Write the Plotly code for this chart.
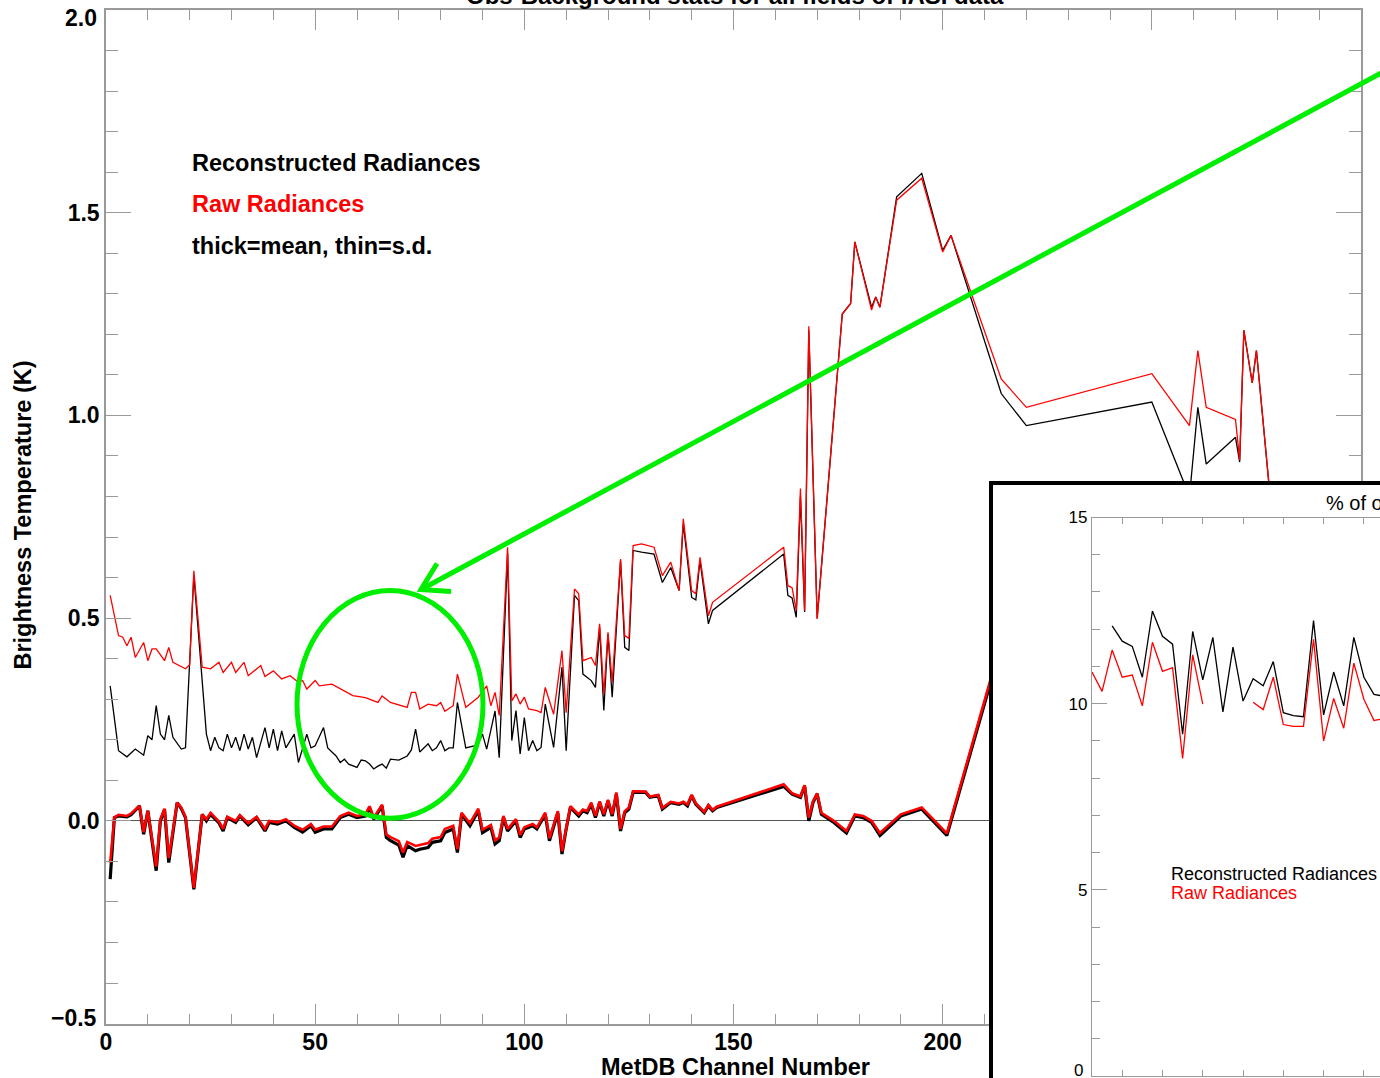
import plotly.graph_objects as go

W, H = 1380, 1078
FONT = "Liberation Sans, Arial, Helvetica, sans-serif"
AX_GRAY = "#9a9a9a"
GREEN = "#00ee00"

# ---------------- main chart data (MetDB channel number vs brightness temperature, K) -------------
rec_sd_ch = [1,3,5,7,9,10,11,12,13,14,15,16,18,19,21,24,25,26,27,28,29,30,31,32,33,34,35,36,38,39,
             40,41,42,43,45,46,48,49,50,52,53,55,56,57,58,60,61,62,63,64,65,66,67,68,70,72,73,74,75,76,
             77,78,79,80,81,82,83,84,86,88,89,90,91,93,94,96,97,98,99,100,101,102,103,104,105,107,109,110,112,113,
             114,116,117,118,119,120,121,123,124,125,126,128,131,133,135,137,138,140,141,142,144,145,162,163,164,
             165,166,167,168,170,176,178,179,183,184,185,189,195,200,202,214,220,250,259,261,263,270,271,272,274,
             275,279,284]
rec_sd = [0.333,0.173,0.158,0.177,0.162,0.21,0.2,0.284,0.214,0.2,0.26,0.206,0.177,0.18,0.605,0.214,0.173,0.206,0.18,0.173,
          0.214,0.18,0.206,0.173,0.214,0.177,0.206,0.156,0.23,0.18,0.226,0.173,0.222,0.18,0.214,0.144,0.214,0.18,0.185,0.23,
          0.18,0.16,0.144,0.152,0.14,0.132,0.15,0.148,0.14,0.128,0.135,0.14,0.13,0.152,0.15,0.16,0.175,0.226,0.17,0.18,
          0.19,0.173,0.18,0.198,0.173,0.18,0.18,0.292,0.18,0.185,0.19,0.214,0.177,0.271,0.156,0.66,0.198,0.272,0.165,0.255,
          0.173,0.198,0.173,0.181,0.288,0.181,0.379,0.173,0.556,0.543,0.362,0.346,0.329,0.477,0.272,0.461,0.305,0.642,0.428,0.42,
          0.667,0.663,0.658,0.588,0.625,0.568,0.733,0.551,0.545,0.642,0.486,0.519,0.658,0.556,0.55,0.502,0.80,0.515,1.21,0.50,
          1.25,1.276,1.428,1.267,1.292,1.267,1.539,1.597,1.407,1.444,1.054,0.975,1.033,0.80,1.02,0.88,0.946,0.885,1.21,1.08,
          1.16,0.72,0.6]

raw_sd_ch = [1,3,4,5,6,7,9,10,11,12,14,15,16,19,20,21,23,25,27,28,30,31,33,34,37,38,40,42,44,46,
             47,48,50,51,54,57,59,62,65,66,68,72,73,74,75,77,79,80,81,83,84,86,89,91,92,93,94,96,97,98,
             99,100,101,103,104,105,107,109,110,112,113,114,116,117,118,119,120,121,123,124,125,126,128,131,133,
             135,137,138,140,141,142,144,145,162,163,164,165,166,167,168,170,176,178,179,183,184,185,189,195,200,
             202,214,220,250,259,261,263,270,271,272,274,275,279,284]
raw_sd = [0.556,0.457,0.453,0.432,0.453,0.403,0.44,0.395,0.424,0.424,0.395,0.428,0.391,0.375,0.385,
          0.617,0.379,0.375,0.391,0.366,0.391,0.366,0.391,0.358,0.383,0.356,0.37,0.35,0.358,0.342,
          0.346,0.325,0.346,0.333,0.337,0.321,0.309,0.304,0.292,0.308,0.292,0.28,0.317,0.317,0.276,
          0.288,0.284,0.292,0.27,0.284,0.362,0.28,0.305,0.333,0.284,0.317,0.26,0.675,0.296,0.313,
          0.288,0.305,0.276,0.272,0.267,0.329,0.263,0.42,0.267,0.572,0.56,0.395,0.403,0.383,0.486,
          0.313,0.465,0.342,0.646,0.457,0.45,0.679,0.683,0.675,0.605,0.638,0.568,0.745,0.568,0.56,
          0.65,0.506,0.539,0.675,0.58,0.575,0.519,0.82,0.519,1.22,0.498,1.25,1.276,1.428,1.26,
          1.292,1.267,1.531,1.585,1.403,1.444,1.09,1.02,1.103,0.975,1.16,1.02,0.99,0.89,1.21,
          1.08,1.16,0.72,0.6]

mean_ch = [1,2,3,5,6,8,9,10,12,13,14,15,17,18,19,21,23,24,25,27,28,29,31,32,34,36,38,39,41,43,
           45,47,49,50,52,54,56,58,60,62,63,64,66,67,68,70,71,72,74,75,77,78,80,81,83,84,85,87,89,90,
           92,93,94,95,96,98,99,100,102,103,105,106,108,109,110,111,113,114,115,116,117,118,119,120,121,
           122,123,124,125,126,129,130,132,133,135,137,138,139,140,141,143,144,145,146,162,164,166,167,168,169,
           170,171,174,177,179,181,183,185,190,195,201,220,250,270,290]
rec_mean = [-0.144,0.008,0.012,0.01,0.015,0.037,-0.033,0.025,-0.123,0.0,0.028,-0.103,0.045,0.03,0.008,
            -0.169,0.016,0.0,0.016,-0.005,-0.025,0.008,-0.004,0.012,-0.01,0.008,-0.025,-0.004,-0.008,0.0,
            -0.016,-0.028,-0.012,-0.028,-0.02,-0.02,0.008,0.016,0.008,0.012,0.033,0.004,0.037,-0.041,-0.049,
            -0.06,-0.09,-0.061,-0.074,-0.07,-0.066,-0.053,-0.049,-0.029,-0.02,-0.078,0.016,-0.012,0.025,-0.029,
            -0.016,-0.057,-0.049,0.008,-0.025,0.0,-0.041,-0.02,-0.012,-0.02,0.016,-0.049,0.02,-0.082,-0.02,
            0.033,0.012,0.025,0.02,0.041,0.008,0.045,0.012,0.049,0.012,0.066,-0.025,0.02,0.029,0.07,
            0.07,0.058,0.062,0.029,0.045,0.041,0.045,0.037,0.062,0.041,0.02,0.037,0.025,0.033,0.085,
            0.066,0.058,0.086,0.0,0.045,0.066,0.016,-0.004,-0.03,0.012,0.008,-0.004,-0.036,0.012,0.029,
            -0.036,0.65,0.3,0.1,0.0]
raw_mean = [-0.103,0.008,0.015,0.012,0.018,0.037,-0.028,0.025,-0.113,0.004,0.03,-0.092,0.045,0.033,0.01,
            -0.165,0.016,0.004,0.02,-0.002,-0.02,0.01,0.0,0.014,-0.006,0.01,-0.02,0.0,-0.004,0.004,
            -0.012,-0.022,-0.008,-0.022,-0.014,-0.014,0.012,0.02,0.012,0.016,0.036,0.008,0.04,-0.033,-0.04,
            -0.05,-0.078,-0.052,-0.062,-0.06,-0.055,-0.044,-0.04,-0.02,-0.012,-0.07,0.02,-0.006,0.03,-0.022,
            -0.01,-0.048,-0.041,0.012,-0.02,0.004,-0.035,-0.016,-0.008,-0.016,0.02,-0.043,0.024,-0.075,-0.016,
            0.036,0.016,0.028,0.024,0.045,0.012,0.048,0.016,0.052,0.016,0.07,-0.02,0.024,0.033,0.073,
            0.072,0.06,0.064,0.032,0.047,0.043,0.047,0.04,0.064,0.043,0.022,0.039,0.027,0.035,0.09,
            0.068,0.06,0.088,0.008,0.048,0.068,0.02,0.0,-0.025,0.016,0.012,0.0,-0.03,0.016,0.033,
            -0.031,0.66,0.31,0.11,0.01]
main_y_ticks = [0.0, 0.5, 1.0, 1.5]
main_y_ticktext = ["0.0", "0.5", "1.0", "1.5"]

# ---------------- inset data (percent) ----------------
inset_rec_x = [2,3,4,5,6,7,8,9,10,11,12,13,14,15,16,17,18,19,20,21,22,23,24,25,26,27,28,29]
inset_rec = [12.09,11.68,11.54,10.71,12.49,11.81,11.60,9.18,11.94,10.64,11.78,9.78,11.52,10.07,
             10.67,10.48,11.13,9.76,9.68,9.65,12.23,9.70,10.85,9.94,11.78,10.71,10.25,10.2]
inset_raw_x = [0,1,2,3,4,5,6,7,8,9,10,11,12,13,14,15,16,17,18,19,20,21,22,23,24,25,26,27,28,29]
inset_raw = [10.85,10.33,11.44,10.71,10.77,9.94,11.65,10.87,10.97,8.53,11.31,9.99,None,None,None,None,
             10.04,9.84,10.71,9.44,9.39,9.39,11.73,9.0,10.14,9.34,11.09,10.12,9.55,9.6]
inset_y_ticks = [5, 10, 15]

assert len(rec_sd_ch) == len(rec_sd)
assert len(raw_sd_ch) == len(raw_sd)
assert len(mean_ch) == len(rec_mean) == len(raw_mean)
assert len(inset_rec_x) == len(inset_rec) and len(inset_raw_x) == len(inset_raw)

# the rendered page maps paper y onto rows 8..1078, so convert target pixel rows accordingly
TOP_OFF, EFF_H = 8.0, 1070.0


def px(x):
    return x / W


def py(y):
    return 1 - (y - TOP_OFF) / EFF_H


fig = go.Figure()

# main traces
fig.add_trace(go.Scatter(x=rec_sd_ch, y=rec_sd, mode="lines", line=dict(color="black", width=1.3),
                         xaxis="x", yaxis="y"))
fig.add_trace(go.Scatter(x=raw_sd_ch, y=raw_sd, mode="lines", line=dict(color="#ff0000", width=1.3),
                         xaxis="x", yaxis="y"))
fig.add_trace(go.Scatter(x=mean_ch, y=rec_mean, mode="lines", line=dict(color="black", width=3.2),
                         xaxis="x", yaxis="y"))
fig.add_trace(go.Scatter(x=mean_ch, y=raw_mean, mode="lines", line=dict(color="#ff0000", width=2.6),
                         xaxis="x", yaxis="y"))
# white framed box (its own subplot so it covers the main chart)
fig.add_trace(go.Scatter(x=[None], y=[None], mode="lines", xaxis="x2", yaxis="y2", hoverinfo="skip"))
# inset traces
fig.add_trace(go.Scatter(x=inset_rec_x, y=inset_rec, mode="lines", line=dict(color="black", width=1.3),
                         xaxis="x3", yaxis="y3"))
fig.add_trace(go.Scatter(x=inset_raw_x, y=inset_raw, mode="lines", line=dict(color="#ff0000", width=1.3),
                         connectgaps=False, xaxis="x3", yaxis="y3"))

bold = dict(family=FONT, size=23, color="black", weight="bold")

fig.update_layout(
    width=W, height=H, margin=dict(l=0, r=0, t=0, b=0, pad=0),
    paper_bgcolor="white", plot_bgcolor="white", showlegend=False,
    xaxis=dict(domain=[px(106), px(1361)], range=[0, 300], anchor="y", showline=True, linecolor=AX_GRAY,
               linewidth=1.5, mirror="allticks", ticks="inside", ticklen=20, tickwidth=1.3, tickcolor=AX_GRAY,
               tick0=0, dtick=50, showgrid=False, zeroline=False, tickfont=bold, automargin=False,
               ticklabelstandoff=-3,
               minor=dict(ticks="inside", ticklen=10, tickwidth=1.3, tickcolor=AX_GRAY, dtick=10, tick0=0,
                          showgrid=False)),
    yaxis=dict(domain=[py(1023.5), py(9)], range=[-0.5, 2.0], anchor="x", showline=True, linecolor=AX_GRAY,
               linewidth=1.5, mirror="allticks", ticks="inside", ticklen=25, tickwidth=1.3, tickcolor=AX_GRAY,
               tickmode="array", tickvals=main_y_ticks, ticktext=main_y_ticktext,
               showgrid=False, zeroline=True, zerolinecolor="#555555",
               zerolinewidth=1.4, tickfont=bold, automargin=False,
               minor=dict(ticks="inside", ticklen=12, tickwidth=1.3, tickcolor=AX_GRAY, dtick=0.1, tick0=0,
                          showgrid=False)),
    xaxis2=dict(domain=[px(993), 1.0], range=[0, 1], anchor="y2", side="top", showline=True,
                linecolor="black", linewidth=3.5, showticklabels=False, ticks="", showgrid=False,
                zeroline=False, fixedrange=True),
    yaxis2=dict(domain=[0.0, py(484)], range=[0, 1], anchor="x2", side="left", showline=True,
                linecolor="black", linewidth=3.5, showticklabels=False, ticks="", showgrid=False,
                zeroline=False, fixedrange=True),
    xaxis3=dict(domain=[px(1092), 1.0], range=[0, 28.6], anchor="y3", showline=True, linecolor=AX_GRAY,
                linewidth=1.3, mirror="allticks", ticks="inside", ticklen=6, tickwidth=1.2, tickcolor=AX_GRAY,
                tick0=3, dtick=4, showticklabels=False, showgrid=False, zeroline=False),
    yaxis3=dict(domain=[py(1076), py(517)], range=[0, 15], anchor="x3", showline=True, linecolor=AX_GRAY,
                linewidth=1.3, ticks="inside", ticklen=15, tickwidth=1.2, tickcolor=AX_GRAY,
                tickmode="array", tickvals=inset_y_ticks,
                showgrid=False, zeroline=False,
                tickfont=dict(family=FONT, size=17, color="black"),
                minor=dict(ticks="inside", ticklen=8, tickwidth=1.2, tickcolor=AX_GRAY, dtick=1, tick0=0,
                           showgrid=False)),
)

ann = []
# clipped title at top
ann.append(dict(text="Obs-Background stats for all fields of IASI data", x=px(735), y=py(10),
                xref="paper", yref="paper", xanchor="center", yanchor="bottom", showarrow=False,
                font=dict(family=FONT, size=24, color="black", weight="bold")))
# end-of-axis labels, nudged inward as in the original
ann.append(dict(text="2.0", x=px(99), y=py(17), xref="paper", yref="paper", xanchor="right",
                yanchor="middle", showarrow=False, font=bold))
ann.append(dict(text="\u22120.5", x=px(99), y=py(1018), xref="paper", yref="paper", xanchor="right",
                yanchor="middle", showarrow=False, font=bold))
ann.append(dict(text="0", x=px(1085), y=py(1070), xref="paper", yref="paper", xanchor="right",
                yanchor="middle", showarrow=False, font=dict(family=FONT, size=17, color="black")))
# main legend text
for txt, yy, col in [("Reconstructed Radiances", 162, "black"), ("Raw Radiances", 203, "#ff0000"),
                     ("thick=mean, thin=s.d.", 245, "black")]:
    ann.append(dict(text=txt, x=px(190), y=py(yy), xref="paper", yref="paper", xanchor="left",
                    yanchor="middle", showarrow=False,
                    font=dict(family=FONT, size=23.5, color=col, weight="bold")))
# axis titles
ann.append(dict(text="MetDB Channel Number", x=px(735), y=py(1067), xref="paper", yref="paper",
                xanchor="center", yanchor="middle", showarrow=False,
                font=dict(family=FONT, size=23.5, color="black", weight="bold")))
ann.append(dict(text="Brightness Temperature (K)", x=px(23), y=py(515), xref="paper", yref="paper",
                xanchor="center", yanchor="middle", textangle=-90, showarrow=False,
                font=dict(family=FONT, size=23.5, color="black", weight="bold")))
# inset texts
ann.append(dict(text="% of observations used", x=px(1324), y=py(502), xref="paper", yref="paper",
                xanchor="left", yanchor="middle", showarrow=False,
                font=dict(family=FONT, size=20, color="black")))
ann.append(dict(text="Reconstructed Radiances", x=px(1169), y=py(874), xref="paper", yref="paper",
                xanchor="left", yanchor="middle", showarrow=False,
                font=dict(family=FONT, size=18, color="black")))
ann.append(dict(text="Raw Radiances", x=px(1169), y=py(893), xref="paper", yref="paper",
                xanchor="left", yanchor="middle", showarrow=False,
                font=dict(family=FONT, size=18, color="#ff0000")))
fig.update_layout(annotations=ann)

# green callout: ellipse and arrow
shapes = [
    dict(type="circle", xref="paper", yref="paper", x0=px(297), x1=px(483), y0=py(818), y1=py(590),
         line=dict(color=GREEN, width=5), layer="above"),
    dict(type="line", xref="paper", yref="paper", x0=px(1400), y0=py(62), x1=px(421), y1=py(589),
         line=dict(color=GREEN, width=5), layer="above"),
    dict(type="path", xref="paper", yref="paper",
         path=f"M {px(451)} {py(591)} L {px(421)} {py(589)} L {px(437)} {py(563)}",
         line=dict(color=GREEN, width=5), layer="above"),
]
fig.update_layout(shapes=shapes)

fig.write_html("out.html")
